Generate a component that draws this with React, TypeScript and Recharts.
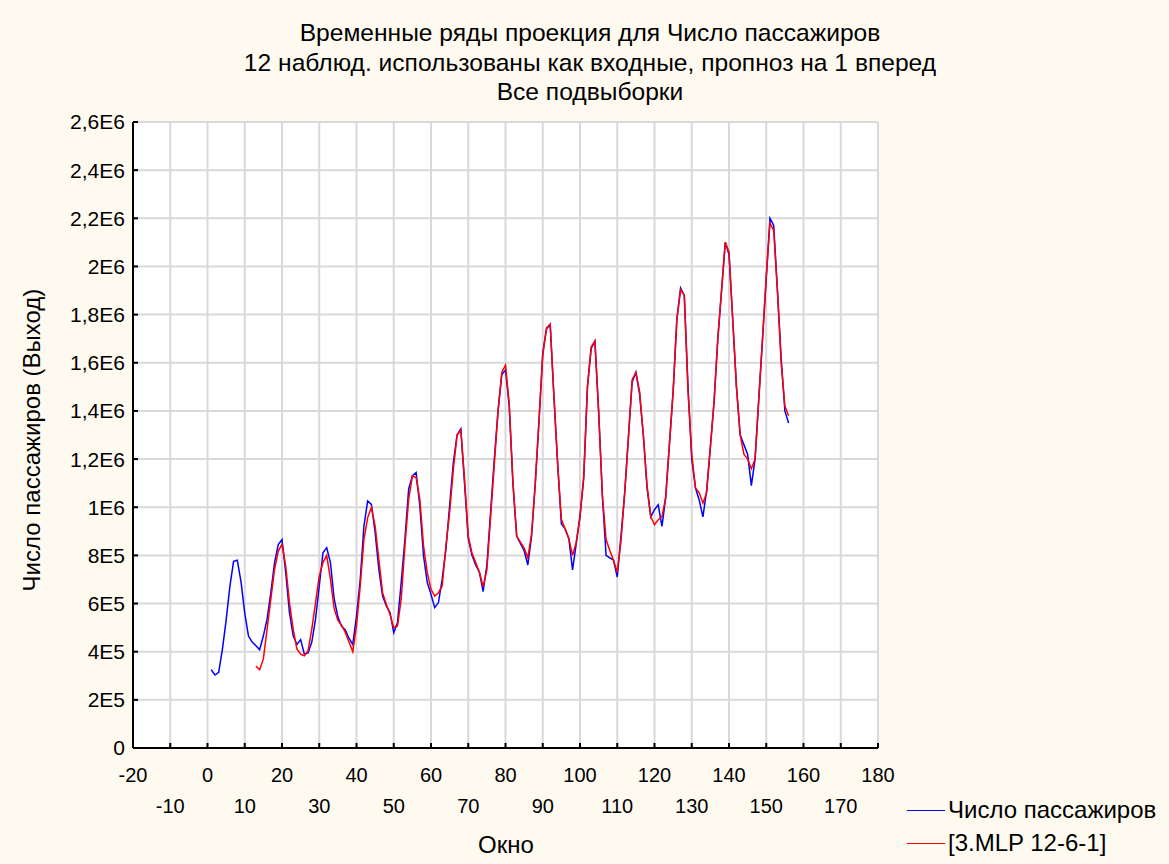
import React from 'react';
import { LineChart, Line, XAxis, YAxis, CartesianGrid } from 'recharts';

// observed series, thousands of passengers, window 1..156
const observed = [
  325, 303, 314, 410, 530, 670, 775, 780, 690, 560, 465, 440,
  425, 408, 466, 535, 645, 770, 845, 866, 728, 563, 466, 430,
  450, 390, 395, 440, 535, 673, 811, 832, 770, 620, 545, 505,
  490, 455, 430, 548, 700, 923, 1026, 1012, 895, 742, 631, 590,
  562, 479, 521, 687, 867, 1075, 1130, 1144, 1006, 798, 687, 638,
  583, 604, 700, 825, 1006, 1186, 1300, 1325, 1100, 870, 800, 760,
  730, 650, 760, 980, 1200, 1400, 1550, 1570, 1420, 1100, 880, 850,
  820, 760, 880, 1100, 1360, 1640, 1740, 1760, 1460, 1180, 930, 910,
  870, 740, 850, 960, 1120, 1500, 1660, 1690, 1400, 1050, 800, 790,
  780, 710, 880, 1060, 1290, 1520, 1560, 1470, 1300, 1080, 960, 990,
  1010, 920, 1040, 1260, 1480, 1780, 1910, 1880, 1500, 1200, 1080, 1030,
  960, 1070, 1250, 1440, 1700, 1900, 2100, 2050, 1780, 1500, 1300, 1260,
  1220, 1090, 1200, 1450, 1700, 1950, 2200, 2170, 1900, 1620, 1400, 1350,
];

// MLP 12-6-1 one-step forecast, starts at window 13
const predictedStart = 13;
const predicted = [
  340, 325, 370, 494, 618, 742, 818, 846, 756, 604, 494, 411,
  390, 383, 404, 494, 604, 714, 770, 800, 701, 580, 530, 510,
  480, 440, 400, 507, 673, 867, 957, 999, 922, 784, 645, 597,
  555, 500, 507, 618, 839, 1033, 1130, 1123, 1033, 839, 728, 659,
  631, 645, 673, 839, 978, 1158, 1300, 1320, 1120, 880, 810, 770,
  730, 670, 740, 960, 1180, 1400, 1560, 1590, 1430, 1100, 880, 855,
  830, 790, 890, 1100, 1360, 1630, 1745, 1760, 1460, 1180, 950, 910,
  870, 800, 855, 965, 1130, 1500, 1665, 1690, 1400, 1050, 866, 820,
  780, 730, 860, 1060, 1290, 1530, 1560, 1480, 1300, 1090, 960, 928,
  948, 960, 1040, 1260, 1480, 1780, 1903, 1880, 1480, 1220, 1080, 1060,
  1017, 1060, 1250, 1440, 1700, 1900, 2100, 2060, 1780, 1500, 1300, 1220,
  1200, 1160, 1200, 1450, 1700, 1960, 2180, 2150, 1900, 1600, 1420, 1380,
];

const xTicks = [-20, -10, 0, 10, 20, 30, 40, 50, 60, 70, 80, 90, 100, 110, 120, 130, 140, 150, 160, 170, 180];
const yTicks = [0, 2e5, 4e5, 6e5, 8e5, 1e6, 1.2e6, 1.4e6, 1.6e6, 1.8e6, 2e6, 2.2e6, 2.4e6, 2.6e6];

const titleLines = [
  'Временные ряды проекция для Число пассажиров',
  '12 наблюд. использованы как входные, пропноз на 1 вперед',
  'Все подвыборки',
];
const seriesNames = ['Число пассажиров', '[3.MLP 12-6-1]'];
const yLabel = 'Число пассажиров (Выход)';
const xLabel = 'Окно';

const rows = observed.map((v, i) => {
  const x = i + 1;
  const p = x >= predictedStart ? predicted[x - predictedStart] : undefined;
  return { x, obs: v * 1000, pred: p === undefined ? undefined : p * 1000 };
});

const FONT = "'Liberation Sans', Arial, sans-serif";

const fmtY = (v: number) => {
  if (v === 0) return '0';
  const e = Math.floor(Math.log10(v) + 1e-9);
  const m = Number((v / Math.pow(10, e)).toFixed(2));
  return String(m).replace('.', ',') + 'E' + e;
};

const XTick = (props: any) => {
  const { x, y, payload } = props;
  const v = payload.value as number;
  const row = v % 20 === 0 ? 0 : 1;
  return (
    <text x={x} y={y + row * 31} textAnchor="middle" dominantBaseline="central"
      fontFamily={FONT} fontSize={20} fill="#000">{v}</text>
  );
};

const colors = ['#0000ff', '#ff0000'];

export default function App() {
  return (
    <div style={{ position: 'absolute', left: 0, top: 0, width: 1169, height: 864, background: '#fffaf0', fontFamily: FONT, color: '#000' }}>
      <LineChart width={1169} height={864} data={rows}
        margin={{ top: 122, right: 291, bottom: 86, left: 73 }}>
        <CartesianGrid fill="#fff" stroke="#d9d9d9" strokeWidth={2} />
        <XAxis dataKey="x" type="number" domain={[-20, 180]} ticks={xTicks} height={30}
          allowDataOverflow interval={0} stroke="#000" strokeWidth={2}
          tickSize={-5} tickMargin={32} tick={<XTick />} />
        <XAxis xAxisId="top" orientation="top" dataKey="x" type="number" domain={[-20, 180]}
          ticks={xTicks} height={0} stroke="#000" strokeWidth={2} tickSize={-5} tick={false} />
        <YAxis domain={[0, 2.6e6]} ticks={yTicks} width={60} stroke="#000" strokeWidth={2}
          tickSize={-5} tickMargin={13} tickFormatter={fmtY} interval={0}
          tick={{ fontFamily: FONT, fontSize: 21, fill: '#000' }} />
        <YAxis yAxisId="right" orientation="right" domain={[0, 2.6e6]} ticks={yTicks} width={0}
          stroke="#000" strokeWidth={2} tickSize={-5} tick={false} />
        <Line dataKey="obs" name={seriesNames[0]} stroke={colors[0]} strokeWidth={1.5}
          dot={false} isAnimationActive={false} type="linear" />
        <Line dataKey="pred" name={seriesNames[1]} stroke={colors[1]} strokeWidth={1.5}
          dot={false} isAnimationActive={false} type="linear" />
      </LineChart>

      {titleLines.map((t, i) => (
        <div key={i} style={{ position: 'absolute', left: 0, width: 1180, top: 33 + i * 29.5 - 14, lineHeight: '28px', textAlign: 'center', fontSize: 24.6, whiteSpace: 'nowrap' }}>{t}</div>
      ))}

      <div style={{ position: 'absolute', left: 32 - 250, top: 440 - 14, width: 500, lineHeight: '28px', textAlign: 'center', fontSize: 24, transform: 'rotate(-90deg)', whiteSpace: 'nowrap' }}>{yLabel}</div>

      <div style={{ position: 'absolute', left: 506 - 100, top: 845 - 14, width: 200, lineHeight: '28px', textAlign: 'center', fontSize: 24 }}>{xLabel}</div>

      {seriesNames.map((n, i) => (
        <div key={n} style={{ position: 'absolute', left: 907, top: 810 + i * 33 - 14, height: 28, display: 'flex', alignItems: 'center', fontSize: 24, whiteSpace: 'nowrap' }}>
          <span style={{ display: 'inline-block', width: 38, height: 0, borderTop: `1px solid ${colors[i]}`, marginRight: 3 }} />
          <span>{n}</span>
        </div>
      ))}
    </div>
  );
}
